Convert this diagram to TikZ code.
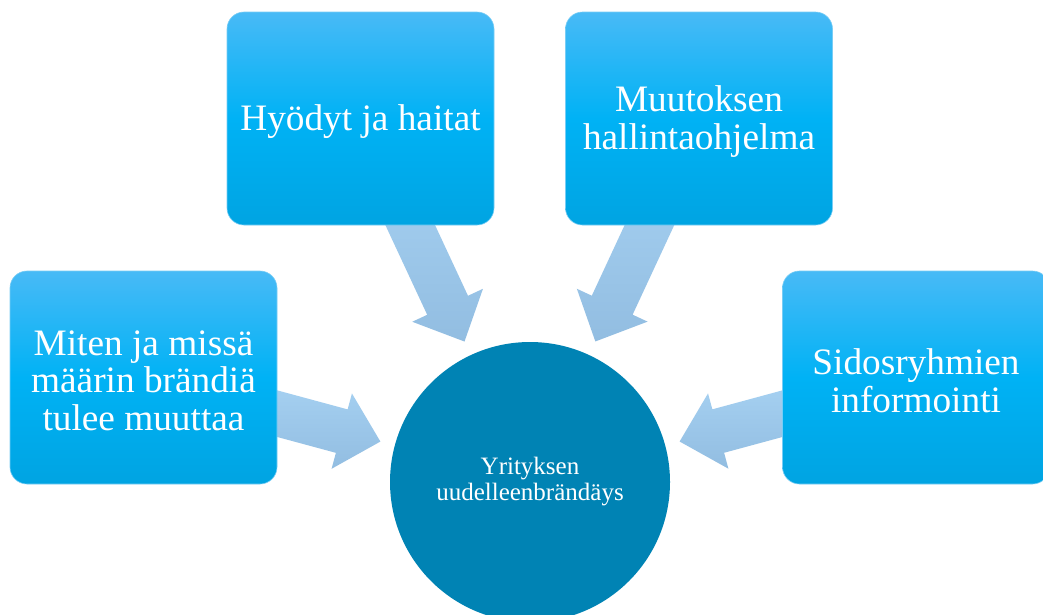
\documentclass[tikz,border=0pt]{standalone}
\usepackage{fontspec}
\setmainfont{Liberation Serif}
\usetikzlibrary{calc}
\pgfdeclarelayer{bg}
\pgfsetlayers{bg,main}
\definecolor{boxtop}{RGB}{72,186,246}
\definecolor{boxmid}{RGB}{0,178,245}
\definecolor{boxbot}{RGB}{0,164,226}
\definecolor{boxedge}{RGB}{120,205,245}
\definecolor{arrtop}{RGB}{172,215,247}
\definecolor{arrbot}{RGB}{146,189,225}
\definecolor{circfill}{RGB}{0,131,180}
\tikzset{
 infobox/.style={rounded corners=17pt, minimum width=267pt, minimum height=213pt, inner sep=0pt,
   top color=boxtop, bottom color=boxbot, middle color=boxmid, draw=boxedge, line width=0.6pt},
 boxtext/.style={text=white, align=center, inner sep=0pt, font=\fontsize{37.3}{37.5}\selectfont},
 hub/.style={circle, minimum size=280pt, inner sep=0pt, fill=circfill, text=white, align=center,
   font=\fontsize{25}{26}\selectfont},
 blockarrow/.style={top color=arrtop, bottom color=arrbot, draw=none}
}
\newcommand{\flowarrow}[2]{%
 \coordinate (T) at ($(#2.center)!155pt!(#1.center)$);
 \coordinate (B) at ($(T)!40pt!(#1.center)$);
 \shade[blockarrow] ($(#1.center)!22.5pt!90:(T)$) -- ($(B)!22.5pt!90:(T)$) -- ($(B)!39pt!90:(T)$)
   -- (T) -- ($(B)!39pt!-90:(T)$) -- ($(B)!22.5pt!-90:(T)$) -- ($(#1.center)!22.5pt!-90:(T)$) -- cycle;
}
\begin{document}
\begin{tikzpicture}[x=1pt,y=-1pt]
\useasboundingbox (0,0) rectangle (1043,614);
\node[hub] (hub) at (530,482) {Yrityksen\\uudelleenbrändäys};
\node[infobox] (left) at (143.5,377.5) {};
\node[infobox] (tl) at (360.5,118.5) {};
\node[infobox] (tr) at (699,118.5) {};
\node[infobox] (right) at (916,377.5) {};
\node[boxtext] (left-t) at ([yshift=-3pt]left.center) {Miten ja missä\\määrin brändiä\\tulee muuttaa};
\node[boxtext] (tl-t) at ([yshift=-3pt]tl.center) {Hyödyt ja haitat};
\node[boxtext] (tr-t) at ([yshift=-3pt]tr.center) {Muutoksen\\hallintaohjelma};
\node[boxtext] (right-t) at ([yshift=-3pt]right.center) {Sidosryhmien\\informointi};
\begin{pgfonlayer}{bg}
\fill[white] (0,0) rectangle (1043,614);
\flowarrow{left}{hub}
\flowarrow{tl}{hub}
\flowarrow{tr}{hub}
\flowarrow{right}{hub}
\end{pgfonlayer}
\end{tikzpicture}
\end{document}
